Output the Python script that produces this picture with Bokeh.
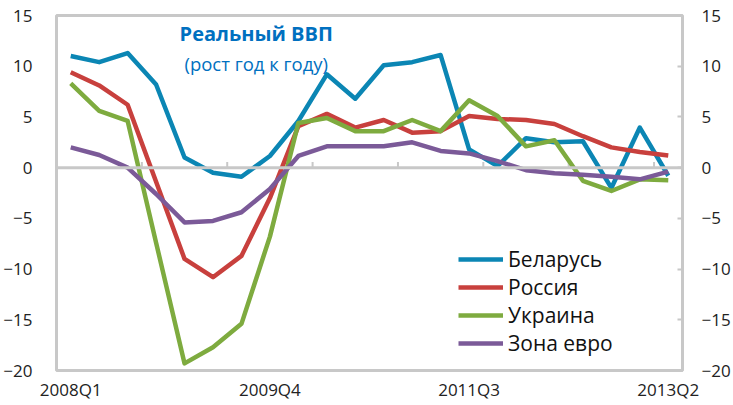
from bokeh.plotting import figure
from bokeh.models import (ColumnDataSource, Range1d, LinearAxis, FixedTicker,
                          Legend, LegendItem, Label, Span)
from bokeh.embed import file_html
from bokeh.resources import INLINE
import numpy as np

quarters = ["2008Q1", "2008Q2", "2008Q3", "2008Q4", "2009Q1", "2009Q2", "2009Q3", "2009Q4",
            "2010Q1", "2010Q2", "2010Q3", "2010Q4", "2011Q1", "2011Q2", "2011Q3", "2011Q4",
            "2012Q1", "2012Q2", "2012Q3", "2012Q4", "2013Q1", "2013Q2"]
belarus = [11.0, 10.4, 11.3, 8.2, 1.0, -0.5, -0.9, 1.15, 4.6, 9.2, 6.8, 10.1,
           10.4, 11.1, 1.8, 0.15, 2.9, 2.5, 2.6, -2.0, 3.95, -0.8]
russia = [9.4, 8.1, 6.2, -1.4, -9.0, -10.8, -8.7, -3.0, 4.1, 5.3, 3.95, 4.7,
          3.45, 3.6, 5.1, 4.8, 4.7, 4.3, 3.1, 2.0, 1.55, 1.2]
ukraine = [8.3, 5.6, 4.6, -7.4, -19.3, -17.7, -15.4, -6.8, 4.4, 4.9, 3.6, 3.6,
           4.7, 3.6, 6.65, 5.1, 2.1, 2.7, -1.3, -2.3, -1.15, -1.25]
eurozone = [2.0, 1.25, 0.0, -2.6, -5.4, -5.25, -4.4, -2.1, 1.15, 2.1, 2.1, 2.1,
            2.5, 1.65, 1.4, 0.65, -0.25, -0.55, -0.7, -0.9, -1.15, -0.4]
series_names = ["Беларусь", "Россия", "Украина", "Зона евро"]
colors = ["#0B86B4", "#C8403D", "#7EAB3F", "#7B5A98"]
y_ticks = [-20, -15, -10, -5, 0, 5, 10, 15]
label_quarters = ["2008Q1", "2009Q4", "2011Q3", "2013Q2"]
title_text = "Реальный ВВП"
subtitle_text = "(рост год к году)"

FONT = "Open Sans"
GREY = "#C8C8C8"

x = np.arange(len(quarters))
p = figure(width=733, height=405, output_backend="svg", toolbar_location=None,
           x_range=Range1d(-0.5, len(quarters) - 0.5), y_range=Range1d(-20, 15),
           min_border_left=55, min_border_right=45, min_border_top=15, min_border_bottom=35,
           x_axis_location="below", y_axis_location="left")
p.xgrid.visible = False
p.ygrid.visible = False
p.outline_line_color = GREY
p.outline_line_width = 3
p.background_fill_color = "white"
p.border_fill_color = "white"

# y axes
ya = p.yaxis[0]
ya.ticker = FixedTicker(ticks=y_ticks)
ya.axis_line_color = None
ya.major_tick_line_color = None
ya.minor_tick_line_color = None
ya.major_label_text_font = FONT
ya.major_label_text_font_size = "17px"
ya.major_label_text_color = "#222222"
ya.major_label_standoff = 18

yr = LinearAxis(ticker=FixedTicker(ticks=y_ticks))
yr.axis_line_color = None
yr.major_tick_line_color = GREY
yr.major_tick_line_width = 2
yr.major_tick_in = 5
yr.major_tick_out = 0
yr.minor_tick_line_color = None
yr.major_label_text_font = FONT
yr.major_label_text_font_size = "17px"
yr.major_label_text_color = "#222222"
yr.major_label_standoff = 19
p.add_layout(yr, "right")

xa = p.xaxis[0]
idx = [quarters.index(q) for q in label_quarters]
xa.ticker = FixedTicker(ticks=idx)
xa.major_label_overrides = {i: quarters[i] for i in idx}
xa.axis_line_color = None
xa.major_tick_line_color = None
xa.major_tick_in = 0
xa.major_tick_out = 0
xa.minor_tick_line_color = None
xa.major_label_text_font = FONT
xa.major_label_text_font_size = "17px"
xa.major_label_text_color = "#222222"
xa.major_label_standoff = 7

# zero line with category-boundary ticks
p.add_layout(Span(location=0, dimension="width", line_color=GREY, line_width=3))
bounds = np.arange(-0.5, len(quarters), 3)
p.segment(x0=bounds, y0=np.zeros(len(bounds)), x1=bounds, y1=np.full(len(bounds), 0.55),
          line_color=GREY, line_width=2)

items = []
for name, vals, c in zip(series_names, [belarus, russia, ukraine, eurozone], colors):
    src = ColumnDataSource(dict(x=x, y=vals))
    r = p.line("x", "y", source=src, line_color=c, line_width=4.5, line_join="round")
    items.append(LegendItem(label=name, renderers=[r]))

legend = Legend(items=items, location=(402, 13), orientation="vertical",
                glyph_width=45, glyph_height=20, label_standoff=5, spacing=0, padding=0,
                margin=0, border_line_color=None, background_fill_alpha=0,
                label_text_font=FONT, label_text_font_size="21px", label_text_color="#111111")
p.add_layout(legend)

p.add_layout(Label(x=6.52, y=13.22, text=title_text, text_font=FONT, text_font_size="20px",
                   text_font_style="bold", text_color="#0070C0", text_align="center",
                   text_baseline="middle"))
p.add_layout(Label(x=6.52, y=10.27, text=subtitle_text, text_font=FONT, text_font_size="18.5px",
                   text_color="#0070C0", text_align="center", text_baseline="middle"))

open("out.html", "w").write(file_html(p, INLINE))
